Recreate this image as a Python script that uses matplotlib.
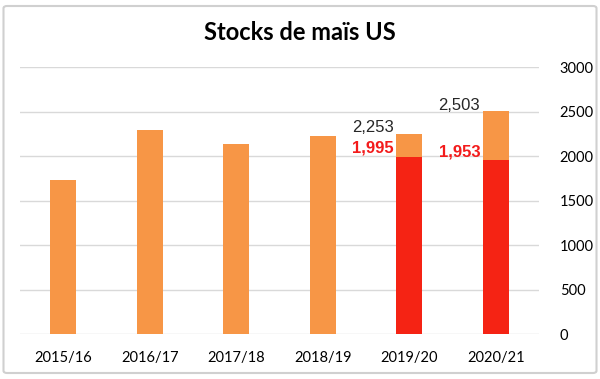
import matplotlib
matplotlib.use("Agg")
from matplotlib import pyplot as plt
from matplotlib.patches import FancyBboxPatch
import numpy as np

seasons = ["2015/16", "2016/17", "2017/18", "2018/19", "2019/20", "2020/21"]
stocks = [1737, 2293, 2140, 2221, 2253, 2503]
# lower estimate, only for the last two seasons
low_idx = [4, 5]
low_stocks = [1995, 1953]
yticks = [0, 500, 1000, 1500, 2000, 2500, 3000]

orange = "#F79646"
red = "#F52314"
grid_col = "#D9D9D9"

plt.rcParams["font.family"] = ["Lato", "DejaVu Sans"]

fig = plt.figure(figsize=(6, 3.79), dpi=100)
ax = fig.add_axes([0.0333, 0.118, 0.865, 0.705])

x = np.arange(len(seasons))
ax.bar(x, stocks, width=0.3, color=orange, zorder=2)
ax.bar(low_idx, low_stocks, width=0.3, color=red, zorder=3)

# value labels to the left of the two last bars
for i, v in zip(low_idx, low_stocks):
    ax.text(i - 0.18, v + 95, f"{v:,}", ha="right", va="center",
            fontsize=12, fontweight="bold", color="#F31B1B",
            family="Liberation Sans")
for i in low_idx:
    v = stocks[i]
    ax.text(i - 0.18, v + 65, f"{v:,}", ha="right", va="center",
            fontsize=12, color="#262626", family="Liberation Sans")

ax.set_xlim(-0.5, len(seasons) - 0.5)
ax.set_ylim(0, 3000)
ax.set_yticks(yticks)
ax.yaxis.tick_right()
ax.set_xticks(x)
ax.set_xticklabels(seasons)
ax.tick_params(axis="y", length=0, pad=15, labelsize=10.5)
ax.tick_params(axis="x", length=0, pad=12, labelsize=10.5)
ax.grid(axis="y", color=grid_col, lw=1, zorder=0)
for s in ["top", "left", "right", "bottom"]:
    ax.spines[s].set_visible(False)

fig.text(0.5, 1 - 33 / 379, "Stocks de maïs US", ha="center", va="center",
         fontsize=17, fontweight="bold")

frame = FancyBboxPatch((3.5 / 600, 6 / 379), 593 / 600, 367 / 379,
                       boxstyle="round,pad=0,rounding_size=0.006",
                       transform=fig.transFigure, fill=False,
                       edgecolor="#D0D0D0", lw=1.5)
fig.patches.append(frame)

fig.savefig("out.png", dpi=100)
